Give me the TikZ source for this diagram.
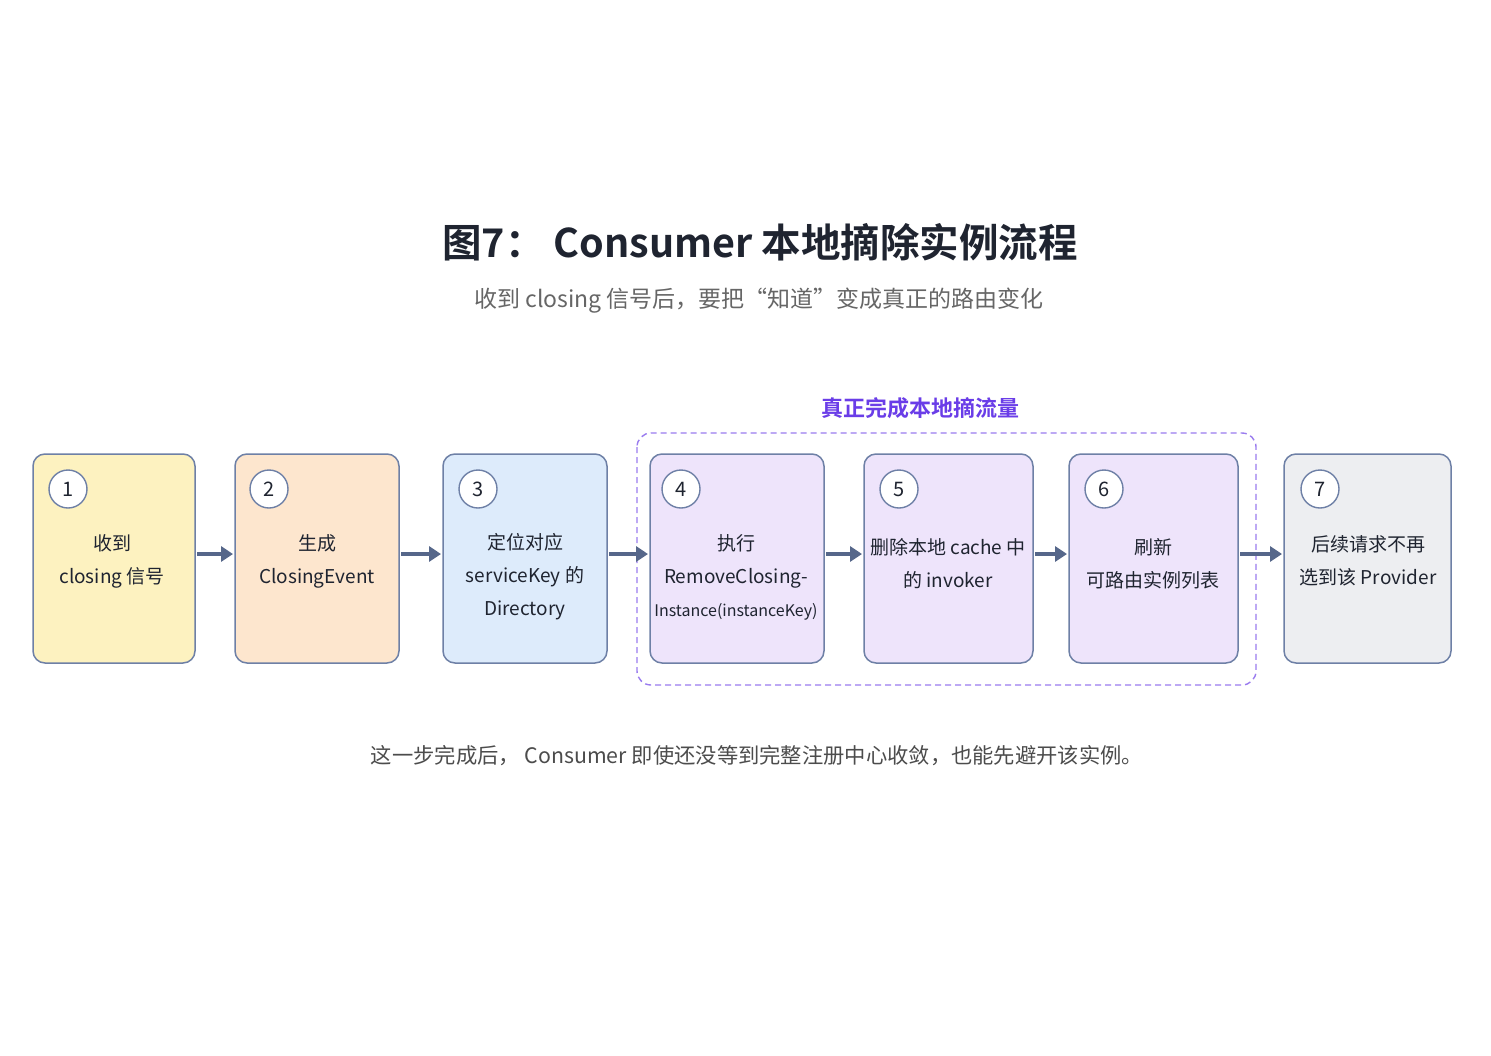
\documentclass[tikz,border=0pt]{standalone}
\usepackage{fontspec}
\setmainfont{Noto Sans CJK SC}
\newfontfamily\cjkb{Noto Sans CJK SC Bold}
\usetikzlibrary{arrows.meta}
\definecolor{edge}{HTML}{6E80A6}
\definecolor{arr}{HTML}{56678A}
\definecolor{purp}{HTML}{9A7CEF}
\definecolor{purpt}{HTML}{6A3DE8}
\definecolor{cy}{HTML}{FDF2C0}
\definecolor{cp}{HTML}{FDE6CE}
\definecolor{cb}{HTML}{DDEBFB}
\definecolor{cl}{HTML}{EEE4FB}
\definecolor{cg}{HTML}{EDEEF1}
\definecolor{txt}{HTML}{1F2430}
\begin{document}
\begin{tikzpicture}[x=1pt,y=-1pt,
 stepbox/.style={draw=edge,line width=1.5pt,rounded corners=12pt},
 num/.style={circle,draw=edge,fill=white,line width=1.4pt,minimum size=38pt,inner sep=0pt,font=\fontsize{20}{20}\selectfont,text=txt},
 lbl/.style={align=center,font=\fontsize{19}{33}\selectfont,text=txt},
 conn/.style={-{Triangle[length=12pt,width=15pt]},line width=4pt,draw=arr,shorten <=2pt,shorten >=2pt}]
\useasboundingbox[fill=white] (0,0) rectangle (1491,1055);
\node[font=\cjkb\fontsize{39.5}{40}\selectfont,text=txt] (title) at (760,242) {图7： Consumer 本地摘除实例流程};
\node[font=\fontsize{23}{23}\selectfont,text=black!60] (sub) at (759,301) {收到 closing 信号后，要把“知道”变成真正的路由变化};
\draw[purp,dash pattern=on 6pt off 4pt,line width=1.4pt,rounded corners=14pt] (637,433) rectangle (1256,685);
\node[font=\cjkb\fontsize{22}{22}\selectfont,text=purpt] (grp) at (920,408) {真正完成本地摘流量};
\foreach \n/\a/\b/\c/\o in {1/33/195/cy/35,2/235/399/cp/34,3/443/607/cb/35,4/650/824/cl/31,5/864/1033/cl/35,6/1069/1238/cl/35,7/1284/1451/cg/36}{
 \draw[stepbox,fill=\c] (\a,454) rectangle (\b,663);
 \node[num] (c\n) at (\a+\o,489) {\n};
 \coordinate (L\n) at (\a,554); \coordinate (R\n) at (\b,554);
}
\node[lbl] (t1) at (112,561) {收到\\closing 信号};
\node[lbl] (t2) at (317,561) {生成\\ClosingEvent};
\node[lbl] (t3) at (525,577) {定位对应\\serviceKey 的\\Directory};
\node[lbl] (t4) at (736,577) {执行\\RemoveClosing-\\{\fontsize{16}{33}\selectfont Instance(instanceKey)}};
\node[lbl] (t5) at (948,564) {删除本地 cache 中\\的 invoker};
\node[lbl] (t6) at (1153,564) {刷新\\可路由实例列表};
\node[lbl] (t7) at (1368,561) {后续请求不再\\选到该 Provider};
\draw[conn] (R1) -- (L2);
\draw[conn] (R2) -- (L3);
\draw[conn] (R3) -- (L4);
\draw[conn] (R4) -- (L5);
\draw[conn] (R5) -- (L6);
\draw[conn] (R6) -- (L7);
\node[font=\fontsize{21.3}{22}\selectfont,text=black!70] (foot) at (757,756) {这一步完成后， Consumer 即使还没等到完整注册中心收敛，也能先避开该实例。};
\end{tikzpicture}
\end{document}
